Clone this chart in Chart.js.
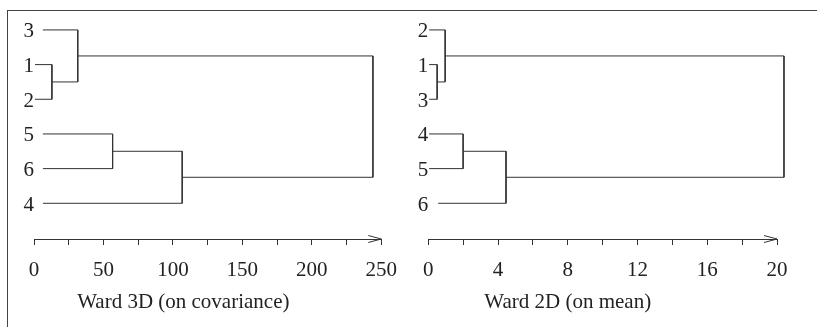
<!DOCTYPE html>
<html>
<head>
<meta charset="utf-8">
<script src="https://cdn.jsdelivr.net/npm/chart.js@4.4.0/dist/chart.umd.min.js"></script>
<style>
body { margin: 0; background: #fff; }
#wrap { position: relative; width: 817px; height: 327px; overflow: hidden; }
#frame { position: absolute; left: 7px; top: 10px; width: 830px; height: 340px; border-top: 1px solid #444; border-left: 1px solid #444; }
.panel { position: absolute; top: 0; height: 327px; }
</style>
</head>
<body>
<div id="wrap">
    <div id="frame"></div>
    <div class="panel" style="left:0;width:410px"><canvas id="leftChart"></canvas></div>
    <div class="panel" style="left:410px;width:407px"><canvas id="rightChart"></canvas></div>
</div>
<script>
// leaves in row order (top to bottom), merges reference rows 0-5 then new clusters 6+
var leftLeaves = ['3', '1', '2', '5', '6', '4'];
var leftLeafStart = [6.4, 0.7, 0.7, 6.4, 6.4, 6.4];
var leftMerges = [[1, 2], [0, 6], [3, 4], [8, 5], [7, 9]];
var leftHeights = [12.9, 31.5, 56.6, 106.7, 244];
var leftTicks = [0, 50, 100, 150, 200, 250];

var rightLeaves = ['2', '1', '3', '4', '5', '6'];
var rightLeafStart = [0.05, 0.05, 0.05, 0.05, 0.05, 0.57];
var rightMerges = [[1, 2], [0, 6], [3, 4], [8, 5], [7, 9]];
var rightHeights = [0.51, 0.97, 2.0, 4.46, 20.4];
var rightTicks = [0, 4, 8, 12, 16, 20];

var serif = { family: '"Liberation Serif", "DejaVu Serif", serif', size: 21 };

function buildSegments(leafStart, merges, heights) {
    var nodeX = leafStart.slice();
    var nodeY = leafStart.map(function(_, i) { return i; });
    var sets = [];
    merges.forEach(function(m, k) {
        var a = m[0], b = m[1], h = heights[k];
        sets.push({
            data: [
                { x: nodeX[a], y: nodeY[a] },
                { x: h, y: nodeY[a] },
                { x: h, y: nodeY[b] },
                { x: nodeX[b], y: nodeY[b] }
            ],
            showLine: true,
            borderColor: '#333',
            borderWidth: 1,
            pointRadius: 0,
            tension: 0,
            clip: false
        });
        nodeX.push(h);
        nodeY.push((nodeY[a] + nodeY[b]) / 2);
    });
    return sets;
}

var axisExtras = {
    id: 'axisExtras',
    afterDraw: function(chart) {
        var opts = chart.options.plugins.axisExtras;
        var ctx = chart.ctx;
        var xs = chart.scales.x;
        var end = xs.getPixelForValue(xs.max);
        var y0 = xs.top;
        ctx.save();
        ctx.strokeStyle = '#333';
        ctx.lineWidth = 1;
        ctx.beginPath();
        ctx.moveTo(end - 13, y0 - 3.5);
        ctx.lineTo(end, y0);
        ctx.lineTo(end - 13, y0 + 3.5);
        ctx.stroke();
        ctx.fillStyle = '#222';
        ctx.font = serif.size + 'px ' + serif.family;
        ctx.textAlign = 'center';
        ctx.textBaseline = 'middle';
        var cx = xs.left + opts.captionFrac * (xs.right - xs.left);
        ctx.fillText(opts.caption, cx, y0 + 63);
        ctx.restore();
    }
};

function makeChart(id, leaves, leafStart, merges, heights, labelTicks, xMax, step, yWidth, padRight, caption, captionFrac) {
    var ctx = document.getElementById(id).getContext('2d');
    return new Chart(ctx, {
        type: 'scatter',
        data: { datasets: buildSegments(leafStart, merges, heights) },
        plugins: [axisExtras],
        options: {
            animation: false,
            responsive: true,
            maintainAspectRatio: false,
            layout: { padding: { top: 12, right: padRight, left: 0, bottom: 0 } },
            plugins: {
                legend: { display: false },
                tooltip: { enabled: false },
                axisExtras: { caption: caption, captionFrac: captionFrac }
            },
            scales: {
                x: {
                    type: 'linear',
                    min: 0,
                    max: xMax,
                    ticks: {
                        stepSize: step,
                        autoSkip: false,
                        maxRotation: 0,
                        padding: 13,
                        color: '#222',
                        font: serif,
                        callback: function(v) { return labelTicks.indexOf(v) >= 0 ? String(v) : ''; }
                    },
                    grid: { display: true, drawOnChartArea: false, drawTicks: true, tickLength: 6, color: '#333' },
                    border: { display: true, color: '#333', width: 1 },
                    afterFit: function(s) { s.height = 88; }
                },
                y: {
                    type: 'linear',
                    reverse: true,
                    min: -0.5,
                    max: 6.03,
                    afterBuildTicks: function(s) {
                        s.ticks = leaves.map(function(_, i) { return { value: i }; });
                    },
                    ticks: {
                        padding: 0,
                        labelOffset: 2,
                        color: '#222',
                        font: serif,
                        callback: function(v) { return leaves[v]; }
                    },
                    grid: { display: false, drawTicks: false },
                    border: { display: false },
                    afterFit: function(s) { s.width = yWidth; }
                }
            }
        }
    });
}

makeChart('leftChart', leftLeaves, leftLeafStart, leftMerges, leftHeights, leftTicks, 250, 25, 34, 27, 'Ward 3D (on covariance)', 0.43);
makeChart('rightChart', rightLeaves, rightLeafStart, rightMerges, rightHeights, rightTicks, 20, 2, 17, 40, 'Ward 2D (on mean)', 0.40);
</script>
</body>
</html>
